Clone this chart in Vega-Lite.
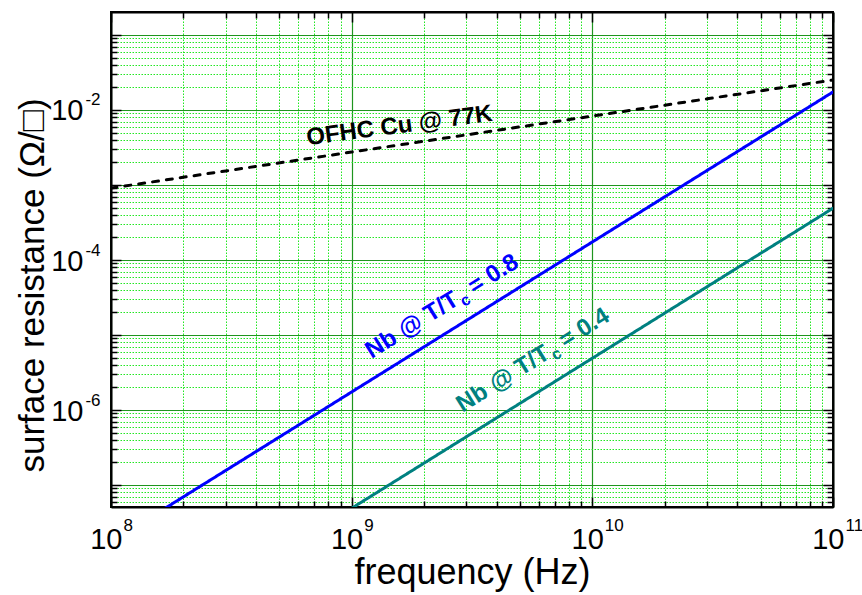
{
  "$schema": "https://vega.github.io/schema/vega-lite/v6.json",
  "width": 722,
  "height": 495,
  "autosize": "none",
  "padding": {"left": 111, "top": 12, "right": 29, "bottom": 88},
  "background": "white",
  "config": {"view": {"stroke": "black", "strokeWidth": 2}, "font": "Liberation Sans"},
  "datasets": {
    "curves": [
      {"f": 1e8, "rs": 9.1e-4, "series": "Cu"},
      {"f": 3e8, "rs": 1.54e-3, "series": "Cu"},
      {"f": 1e9, "rs": 2.75e-3, "series": "Cu"},
      {"f": 3e9, "rs": 4.66e-3, "series": "Cu"},
      {"f": 1e10, "rs": 8.3e-3, "series": "Cu"},
      {"f": 3e10, "rs": 1.41e-2, "series": "Cu"},
      {"f": 1e11, "rs": 2.51e-2, "series": "Cu"},
      {"f": 1e8, "rs": 1.74e-8, "series": "Nb08"},
      {"f": 1e9, "rs": 1.74e-6, "series": "Nb08"},
      {"f": 1e10, "rs": 1.74e-4, "series": "Nb08"},
      {"f": 1e11, "rs": 1.74e-2, "series": "Nb08"},
      {"f": 1e8, "rs": 4.9e-10, "series": "Nb04"},
      {"f": 1e9, "rs": 4.9e-8, "series": "Nb04"},
      {"f": 1e10, "rs": 4.9e-6, "series": "Nb04"},
      {"f": 1e11, "rs": 4.9e-4, "series": "Nb04"}
    ],
    "labels": [
      {"f": 1.58e9, "rs": 6.12e-3, "series": "Cu", "part": "cu", "text": "OFHC Cu @ 77K"},
      {"f": 1.21e9, "rs": 4.8e-6, "series": "Nb08", "part": "a", "text": "Nb @ T/T"},
      {"f": 1.21e9, "rs": 4.8e-6, "series": "Nb08", "part": "b", "text": "c"},
      {"f": 1.21e9, "rs": 4.8e-6, "series": "Nb08", "part": "c", "text": "= 0.8"},
      {"f": 2.89e9, "rs": 9.2e-7, "series": "Nb04", "part": "a", "text": "Nb @ T/T"},
      {"f": 2.89e9, "rs": 9.2e-7, "series": "Nb04", "part": "b", "text": "c"},
      {"f": 2.89e9, "rs": 9.2e-7, "series": "Nb04", "part": "c", "text": "= 0.4"}
    ]
  },
  "layer": [
    {
      "data": {"name": "curves"},
      "mark": {"type": "line", "clip": true, "strokeWidth": 3, "strokeCap": "round"},
      "encoding": {
        "x": {"field": "f", "type": "quantitative",
          "scale": {"type": "log", "domain": [1e8, 1e11], "nice": false},
          "axis": {"orient": "bottom", "title": null, "labels": false, "domain": false,
            "values": [2e8,3e8,4e8,5e8,6e8,7e8,8e8,9e8,2e9,3e9,4e9,5e9,6e9,7e9,8e9,9e9,2e10,3e10,4e10,5e10,6e10,7e10,8e10,9e10],
            "grid": true, "gridColor": "#22e622", "gridDash": [1.5, 1.5], "gridWidth": 1,
            "ticks": true, "tickSize": -6, "tickColor": "black", "tickWidth": 1.5}},
        "y": {"field": "rs", "type": "quantitative",
          "scale": {"type": "log", "domain": [5.09e-8, 0.2026], "nice": false},
          "axis": {"orient": "left", "title": null, "labels": false, "domain": false,
            "values": [6e-8,7e-8,8e-8,9e-8,2e-7,3e-7,4e-7,5e-7,6e-7,7e-7,8e-7,9e-7,2e-6,3e-6,4e-6,5e-6,6e-6,7e-6,8e-6,9e-6,2e-5,3e-5,4e-5,5e-5,6e-5,7e-5,8e-5,9e-5,2e-4,3e-4,4e-4,5e-4,6e-4,7e-4,8e-4,9e-4,2e-3,3e-3,4e-3,5e-3,6e-3,7e-3,8e-3,9e-3,2e-2,3e-2,4e-2,5e-2,6e-2,7e-2,8e-2,9e-2],
            "grid": true, "gridColor": "#22e622", "gridDash": [1.5, 1.5], "gridWidth": 1,
            "ticks": true, "tickSize": -6, "tickColor": "black", "tickWidth": 1.5}},
        "color": {"field": "series", "type": "nominal", "legend": null,
          "scale": {"domain": ["Cu", "Nb08", "Nb04"], "range": ["#000000", "#0000ff", "#008080"]}},
        "strokeDash": {"field": "series", "type": "nominal", "legend": null,
          "scale": {"domain": ["Cu", "Nb08", "Nb04"], "range": [[6, 8], [1, 0], [1, 0]]}}
      }
    },
    {
      "data": {"name": "labels"},
      "transform": [{"filter": "datum.part === 'cu'"}],
      "mark": {"type": "text", "font": "Liberation Sans", "fontWeight": "bold", "fontSize": 24, "angle": 352.5, "align": "center", "baseline": "middle", "color": "white", "stroke": "white", "strokeWidth": 7, "strokeJoin": "round"},
      "encoding": {
        "x": {"field": "f", "type": "quantitative",
          "scale": {"type": "log", "domain": [1e8, 1e11], "nice": false},
          "axis": {"orient": "bottom", "values": [1e8, 1e9, 1e10, 1e11],
            "grid": true, "gridColor": "#1f951f", "gridWidth": 1.2,
            "ticks": true, "tickSize": -10, "tickColor": "black", "tickWidth": 1.5,
            "domain": true, "domainColor": "black", "domainWidth": 2,
            "labelExpr": "'10'", "labelAlign": "right", "labelOffset": 11,
            "labelFont": "Liberation Sans", "labelFontSize": 29, "labelColor": "black",
            "labelPadding": 28, "labelFlush": false, "labelOverlap": false, "labelBound": false,
            "title": "frequency (Hz)", "titleFont": "Liberation Sans", "titleFontSize": 36,
            "titleFontWeight": "normal", "titleColor": "black", "titleBaseline": "alphabetic", "titleY": 76}},
        "y": {"field": "rs", "type": "quantitative",
          "scale": {"type": "log", "domain": [5.09e-8, 0.2026], "nice": false},
          "axis": {"orient": "left", "values": [1e-7, 1e-6, 1e-5, 1e-4, 1e-3, 1e-2, 1e-1],
            "grid": true, "gridColor": "#1f951f", "gridWidth": 1.2,
            "ticks": true, "tickSize": -10, "tickColor": "black", "tickWidth": 1.5,
            "domain": true, "domainColor": "black", "domainWidth": 2,
            "labelExpr": "['', '10', '', '10', '', '10', ''][round(log(datum.value)/LN10) + 7]",
            "labelFont": "Liberation Sans", "labelFontSize": 29, "labelColor": "black",
            "labelPadding": 38, "labelOffset": 1, "labelOverlap": false, "labelBound": false,
            "title": "surface resistance (Ω/□)", "titleFont": "Liberation Sans", "titleFontSize": 35,
            "titleFontWeight": "normal", "titleColor": "black", "titleBaseline": "alphabetic",
            "titleX": -68, "titleY": 273, "titleAngle": 270, "titleAlign": "center"}}
      }
    },
    {
      "data": {"name": "labels"},
      "transform": [{"filter": "datum.part === 'a'"}],
      "mark": {"type": "text", "font": "Liberation Sans", "fontWeight": "bold", "fontSize": 24, "angle": 328, "align": "left", "baseline": "alphabetic", "color": "white", "stroke": "white", "strokeWidth": 7, "strokeJoin": "round"},
      "encoding": {
        "x": {"field": "f", "type": "quantitative",
          "scale": {"type": "log", "domain": [1e8, 1e11], "nice": false},
          "axis": {"orient": "top", "title": null, "labels": false, "grid": false,
            "values": [2e8,3e8,4e8,5e8,6e8,7e8,8e8,9e8,2e9,3e9,4e9,5e9,6e9,7e9,8e9,9e9,2e10,3e10,4e10,5e10,6e10,7e10,8e10,9e10],
            "ticks": true, "tickSize": -6, "tickColor": "black", "tickWidth": 1.5,
            "domain": true, "domainColor": "black", "domainWidth": 2}},
        "y": {"field": "rs", "type": "quantitative",
          "scale": {"type": "log", "domain": [5.09e-8, 0.2026], "nice": false},
          "axis": {"orient": "right", "title": null, "labels": false, "grid": false,
            "values": [6e-8,7e-8,8e-8,9e-8,2e-7,3e-7,4e-7,5e-7,6e-7,7e-7,8e-7,9e-7,2e-6,3e-6,4e-6,5e-6,6e-6,7e-6,8e-6,9e-6,2e-5,3e-5,4e-5,5e-5,6e-5,7e-5,8e-5,9e-5,2e-4,3e-4,4e-4,5e-4,6e-4,7e-4,8e-4,9e-4,2e-3,3e-3,4e-3,5e-3,6e-3,7e-3,8e-3,9e-3,2e-2,3e-2,4e-2,5e-2,6e-2,7e-2,8e-2,9e-2],
            "ticks": true, "tickSize": -6, "tickColor": "black", "tickWidth": 1.5,
            "domain": true, "domainColor": "black", "domainWidth": 2}}
      }
    },
    {
      "data": {"name": "labels"},
      "transform": [{"filter": "datum.part === 'b'"}],
      "mark": {"type": "text", "font": "Liberation Sans", "fontWeight": "bold", "fontSize": 16, "angle": 328, "align": "left", "baseline": "alphabetic", "dx": 106, "dy": 5, "color": "white", "stroke": "white", "strokeWidth": 7, "strokeJoin": "round"},
      "encoding": {
        "x": {"field": "f", "type": "quantitative",
          "scale": {"type": "log", "domain": [1e8, 1e11], "nice": false},
          "axis": {"orient": "top", "title": null, "labels": false, "grid": false,
            "values": [1e8, 1e9, 1e10, 1e11],
            "ticks": true, "tickSize": -10, "tickColor": "black", "tickWidth": 1.5, "domain": false}},
        "y": {"field": "rs", "type": "quantitative",
          "scale": {"type": "log", "domain": [5.09e-8, 0.2026], "nice": false},
          "axis": {"orient": "right", "title": null, "labels": false, "grid": false,
            "values": [1e-7, 1e-6, 1e-5, 1e-4, 1e-3, 1e-2, 1e-1],
            "ticks": true, "tickSize": -10, "tickColor": "black", "tickWidth": 1.5, "domain": false}}
      }
    },
    {
      "data": {"name": "labels"},
      "transform": [{"filter": "datum.part === 'c'"}],
      "mark": {"type": "text", "font": "Liberation Sans", "fontWeight": "bold", "fontSize": 24, "angle": 328, "align": "left", "baseline": "alphabetic", "dx": 121, "color": "white", "stroke": "white", "strokeWidth": 7, "strokeJoin": "round"},
      "encoding": {
        "x": {"field": "f", "type": "quantitative",
          "scale": {"type": "log", "domain": [1e8, 1e11], "nice": false},
          "axis": {"orient": "bottom", "title": null, "grid": false, "domain": false,
            "values": [1e8, 1e9, 1e10, 1e11], "ticks": false, "tickSize": 0,
            "labelExpr": "['8','9','10','11'][round(log(datum.value)/LN10) - 8]",
            "labelBaseline": "top", "labelAlign": "left", "labelOffset": 12,
            "labelFont": "Liberation Sans", "labelFontSize": 17, "labelColor": "black",
            "labelPadding": 10, "labelFlush": false, "labelOverlap": false, "labelBound": false}},
        "y": {"field": "rs", "type": "quantitative",
          "scale": {"type": "log", "domain": [5.09e-8, 0.2026], "nice": false},
          "axis": {"orient": "left", "title": null, "grid": false, "domain": false,
            "values": [1e-7, 1e-6, 1e-5, 1e-4, 1e-3, 1e-2, 1e-1], "ticks": false, "tickSize": 0,
            "labelExpr": "['', '-6', '', '-4', '', '-2', ''][round(log(datum.value)/LN10) + 7]",
            "labelAlign": "right", "labelOffset": -10, "labelBaseline": "middle",
            "labelFont": "Liberation Sans", "labelFontSize": 17, "labelColor": "black",
            "labelPadding": 11, "labelOverlap": false, "labelBound": false}}
      }
    },
    {
      "data": {"name": "labels"},
      "transform": [{"filter": "datum.part === 'cu'"}],
      "mark": {"type": "text", "font": "Liberation Sans", "fontWeight": "bold", "fontSize": 24, "angle": 352.5, "align": "center", "baseline": "middle", "color": "black"},
      "encoding": {
        "x": {"field": "f", "type": "quantitative", "scale": {"type": "log", "domain": [1e8, 1e11], "nice": false}, "axis": null},
        "y": {"field": "rs", "type": "quantitative", "scale": {"type": "log", "domain": [5.09e-8, 0.2026], "nice": false}, "axis": null},
        "text": {"field": "text"}
      }
    },
    {
      "data": {"name": "labels"},
      "transform": [{"filter": "datum.part === 'a'"}],
      "mark": {"type": "text", "font": "Liberation Sans", "fontWeight": "bold", "fontSize": 24, "angle": 328, "align": "left", "baseline": "alphabetic"},
      "encoding": {
        "x": {"field": "f", "type": "quantitative", "scale": {"type": "log", "domain": [1e8, 1e11], "nice": false}, "axis": null},
        "y": {"field": "rs", "type": "quantitative", "scale": {"type": "log", "domain": [5.09e-8, 0.2026], "nice": false}, "axis": null},
        "text": {"field": "text"},
        "color": {"field": "series", "type": "nominal", "legend": null}
      }
    },
    {
      "data": {"name": "labels"},
      "transform": [{"filter": "datum.part === 'b'"}],
      "mark": {"type": "text", "font": "Liberation Sans", "fontWeight": "bold", "fontSize": 16, "angle": 328, "align": "left", "baseline": "alphabetic", "dx": 106, "dy": 5},
      "encoding": {
        "x": {"field": "f", "type": "quantitative", "scale": {"type": "log", "domain": [1e8, 1e11], "nice": false}, "axis": null},
        "y": {"field": "rs", "type": "quantitative", "scale": {"type": "log", "domain": [5.09e-8, 0.2026], "nice": false}, "axis": null},
        "text": {"field": "text"},
        "color": {"field": "series", "type": "nominal", "legend": null}
      }
    },
    {
      "data": {"name": "labels"},
      "transform": [{"filter": "datum.part === 'c'"}],
      "mark": {"type": "text", "font": "Liberation Sans", "fontWeight": "bold", "fontSize": 24, "angle": 328, "align": "left", "baseline": "alphabetic", "dx": 121},
      "encoding": {
        "x": {"field": "f", "type": "quantitative", "scale": {"type": "log", "domain": [1e8, 1e11], "nice": false}, "axis": null},
        "y": {"field": "rs", "type": "quantitative", "scale": {"type": "log", "domain": [5.09e-8, 0.2026], "nice": false}, "axis": null},
        "text": {"field": "text"},
        "color": {"field": "series", "type": "nominal", "legend": null}
      }
    }
  ],
  "resolve": {"axis": {"x": "independent", "y": "independent"}}
}
